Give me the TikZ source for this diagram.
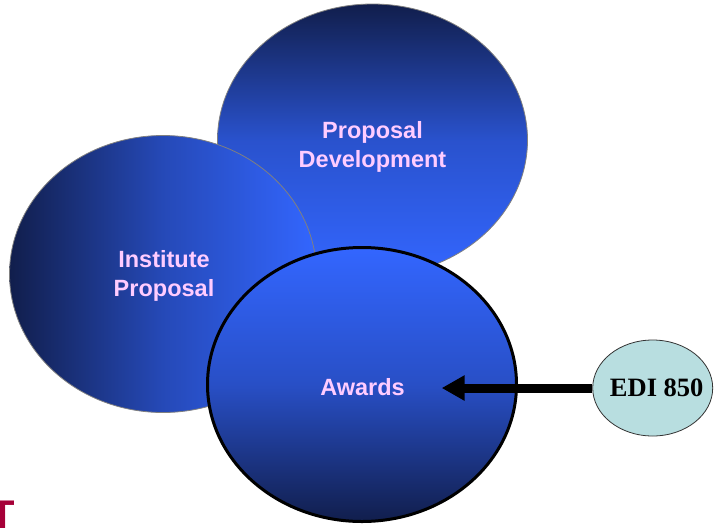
\documentclass[tikz,border=0pt]{standalone}
\usepackage{fontspec}
\newfontfamily\arialfont{Liberation Sans}
\newfontfamily\timesfont{Liberation Serif}
\usetikzlibrary{shapes.geometric,arrows.meta}
\definecolor{navy}{RGB}{17,30,76}
\definecolor{brightblue}{RGB}{51,102,255}
\definecolor{pinktext}{RGB}{255,204,255}
\definecolor{edifill}{RGB}{184,222,224}
\definecolor{logored}{RGB}{166,0,56}
\tikzset{
	bubble/.style={ellipse, inner sep=0pt, line width=0.8pt, draw=gray},
	bubbletext/.style={text=pinktext, align=center, inner sep=0pt,
		font=\arialfont\bfseries\fontsize{23.5}{29}\selectfont},
	feed/.style={line width=9pt, -{Triangle[length=23pt,width=24pt]}}
}
\newcommand{\myBubbleText}[3]{
\node[bubbletext] (#1) at (#2) {#3};
}

\begin{document}
\begin{tikzpicture}[x=1pt,y=-1pt]
			\useasboundingbox (0,0) rectangle (714,528);
			%% back bubbles
			\node[bubble, minimum width=310pt, minimum height=272pt,
				top color=navy, bottom color=brightblue, middle color=brightblue!72!navy] (pd) at (372.5,140) {};
			\node[bubble, minimum width=307pt, minimum height=277pt,
				left color=navy, right color=brightblue, middle color=brightblue!60!navy] (ip) at (163,274) {};
			%% front bubble
			\node[bubble, draw=black, line width=3pt, minimum width=309pt, minimum height=274pt,
				top color=brightblue, bottom color=navy, middle color=brightblue!68!navy] (aw) at (362,384.5) {};
			\coordinate (awtip) at (441.7,388);
			%% feed
			\node[ellipse, draw=black!80, line width=0.8pt, fill=edifill, inner sep=0pt,
				minimum width=120pt, minimum height=96pt] (edi) at (652.7,388) {};
			\node[inner sep=0pt, font=\timesfont\bfseries\fontsize{26.5}{30}\selectfont] (editext) at (656.7,387.5) {EDI 850};
			\draw[feed] (edi) -- (awtip);

			\myBubbleText{pdtext}{372.5,146.5}{Proposal\\Development}
			\myBubbleText{iptext}{164,276}{Institute\\Proposal}
			\myBubbleText{awtext}{362.5,386.7}{Awards}
			\node[anchor=base west, inner sep=0pt, text=logored,
				font=\arialfont\bfseries\fontsize{40}{40}\selectfont] (logo) at (-9.3,528.6) {T};
\end{tikzpicture}
\end{document}
